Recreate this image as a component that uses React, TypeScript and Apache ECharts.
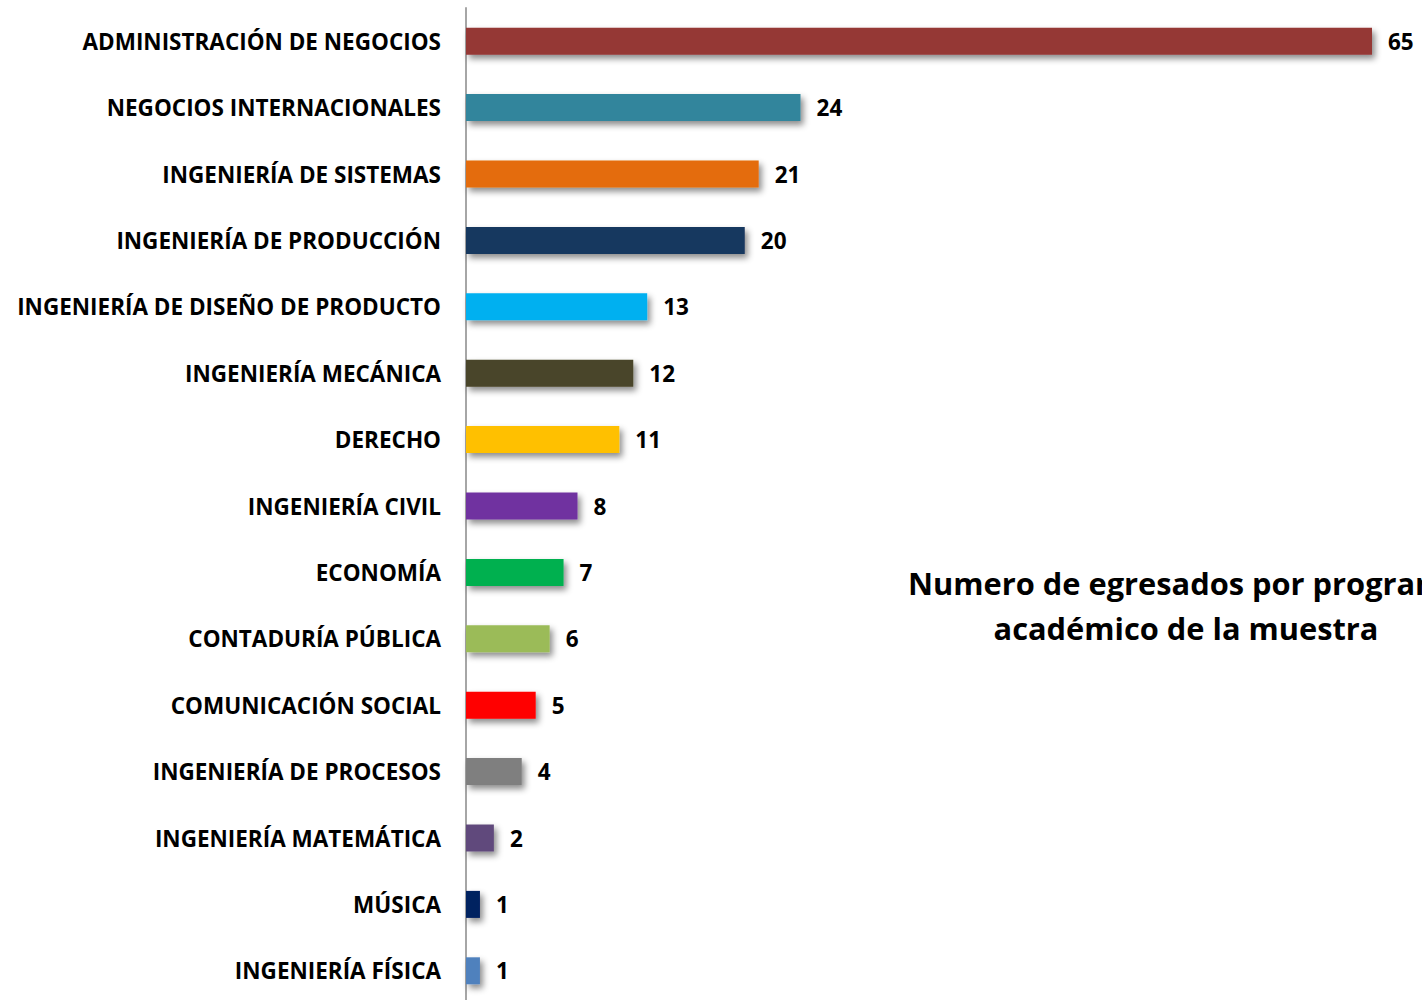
import React, { useEffect, useRef } from "react";
import * as echarts from "echarts";

const categories = [
  "ADMINISTRACIÓN DE NEGOCIOS",
  "NEGOCIOS INTERNACIONALES",
  "INGENIERÍA DE SISTEMAS",
  "INGENIERÍA DE PRODUCCIÓN",
  "INGENIERÍA DE DISEÑO DE PRODUCTO",
  "INGENIERÍA MECÁNICA",
  "DERECHO",
  "INGENIERÍA CIVIL",
  "ECONOMÍA",
  "CONTADURÍA PÚBLICA",
  "COMUNICACIÓN SOCIAL",
  "INGENIERÍA DE PROCESOS",
  "INGENIERÍA MATEMÁTICA",
  "MÚSICA",
  "INGENIERÍA FÍSICA",
];
const values = [65, 24, 21, 20, 13, 12, 11, 8, 7, 6, 5, 4, 2, 1, 1];
const colors = [
  "#953735", "#31859C", "#E46C0A", "#17375E", "#00B0F0",
  "#4A452A", "#FFC000", "#7030A0", "#00B050", "#9BBB59",
  "#FF0000", "#7F7F7F", "#604A7B", "#002060", "#4F81BD",
];
const titleLines = ["Numero de egresados por programa", "académico de la muestra"];

const FONT = "'Open Sans', 'Noto Sans', sans-serif";

export default function App() {
  const ref = useRef<HTMLDivElement>(null);
  useEffect(() => {
    const chart = echarts.init(ref.current!, null, { renderer: "svg" });
    chart.setOption({
      animation: false,
      grid: { left: 466, top: 8, width: 906, height: 996, containLabel: false },
      xAxis: {
        type: "value",
        min: 0,
        max: 65,
        show: false,
      },
      yAxis: {
        type: "category",
        data: categories,
        inverse: true,
        axisLine: { show: true, lineStyle: { color: "#A6A6A6", width: 2 } },
        axisTick: { show: false },
        axisLabel: {
          margin: 25,
          color: "#000",
          fontSize: 22.5,
          fontWeight: "bold",
          fontFamily: FONT,
        },
      },
      series: [
        {
          type: "bar",
          barWidth: 27,
          data: values.map((v, i) => ({ value: v, itemStyle: { color: colors[i] } })),
          itemStyle: {
            shadowColor: "rgba(0,0,0,0.45)",
            shadowBlur: 6,
            shadowOffsetX: 3,
            shadowOffsetY: 4,
          },
          label: {
            show: true,
            position: "right",
            distance: 16,
            offset: [0, 0],
            color: "#000",
            fontSize: 22.5,
            fontWeight: "bold",
            fontFamily: FONT,
          },
        },
      ],
      graphic: [
        {
          type: "text",
          x: 1186,
          y: 560,
          style: {
            text: titleLines.join("\n"),
            textAlign: "center",
            fill: "#000",
            font: `bold 30.8px ${FONT}`,
            lineHeight: 45,
          },
        },
      ],
    });
    return () => chart.dispose();
  }, []);
  return (
    <div
      ref={ref}
      style={{ position: "fixed", left: 0, top: 0, width: 1422, height: 1012, background: "#fff" }}
    />
  );
}
